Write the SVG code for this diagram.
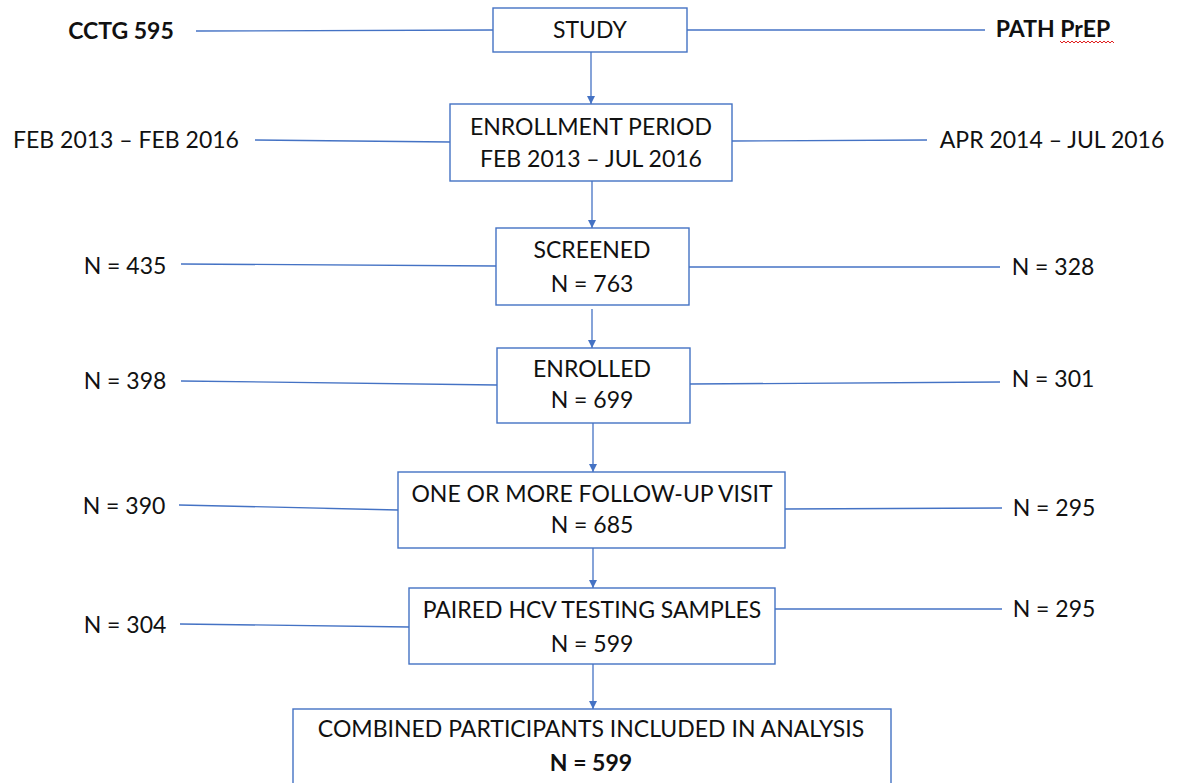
<svg xmlns="http://www.w3.org/2000/svg" width="1183" height="783" viewBox="0 0 1183 783">
<style>
.box{fill:#fff;stroke:#4472C4;stroke-width:1.4}
.ln{stroke:#4472C4;stroke-width:1.3;fill:none}
.t{font-family:Lato,"Liberation Sans",sans-serif;font-size:23px;fill:#111;text-anchor:middle}
.b{font-weight:bold}
</style>
<defs>
<marker id="ah" markerUnits="userSpaceOnUse" markerWidth="10" markerHeight="10" refX="8" refY="4" orient="auto">
<path d="M0,0 L8,4 L0,8 Z" fill="#4472C4"/>
</marker>
</defs>
<rect width="1183" height="783" fill="#fff"/>
<g id="connectors">
<line class="ln" x1="196" y1="31" x2="493" y2="30"/>
<line class="ln" x1="687" y1="30" x2="985" y2="30"/>
<line class="ln" x1="255" y1="140" x2="450" y2="142"/>
<line class="ln" x1="732" y1="141" x2="927" y2="140"/>
<line class="ln" x1="181" y1="264" x2="496" y2="266"/>
<line class="ln" x1="689" y1="267" x2="1000" y2="267"/>
<line class="ln" x1="181" y1="381" x2="497" y2="385"/>
<line class="ln" x1="690" y1="384" x2="1000" y2="382"/>
<line class="ln" x1="179" y1="505" x2="398" y2="510"/>
<line class="ln" x1="785" y1="509" x2="1002" y2="508"/>
<line class="ln" x1="180" y1="624" x2="409" y2="627"/>
<line class="ln" x1="775" y1="609" x2="1002" y2="609"/>
<line class="ln" x1="591" y1="52" x2="591" y2="104" marker-end="url(#ah)"/>
<line class="ln" x1="592" y1="181" x2="592" y2="228" marker-end="url(#ah)"/>
<line class="ln" x1="592" y1="309" x2="592" y2="348" marker-end="url(#ah)"/>
<line class="ln" x1="593" y1="423" x2="593" y2="472" marker-end="url(#ah)"/>
<line class="ln" x1="593" y1="548" x2="593" y2="588" marker-end="url(#ah)"/>
<line class="ln" x1="593" y1="664" x2="593" y2="709" marker-end="url(#ah)"/>
</g>
<g id="labels-left">
<text class="t b" x="121" y="39">CCTG 595</text>
<text class="t" x="126" y="148">FEB 2013 – FEB 2016</text>
<text class="t" x="125" y="274">N = 435</text>
<text class="t" x="125" y="389">N = 398</text>
<text class="t" x="124" y="514">N = 390</text>
<text class="t" x="125" y="633">N = 304</text>
</g>
<g id="labels-right">
<text class="t b" x="1053" y="37">PATH PrEP</text>
<path d="M1060,41 l2,2 l2,-2 l2,2 l2,-2 l2,2 l2,-2 l2,2 l2,-2 l2,2 l2,-2 l2,2 l2,-2 l2,2 l2,-2 l2,2 l2,-2 l2,2 l2,-2 l2,2 l2,-2 l2,2 l2,-2 l2,2 l2,-2 l2,2 l2,-2 l2,2" fill="none" stroke="#e02020" stroke-width="1"/>
<text class="t" x="1052" y="148">APR 2014 – JUL 2016</text>
<text class="t" x="1053" y="275">N = 328</text>
<text class="t" x="1053" y="387">N = 301</text>
<text class="t" x="1054" y="516">N = 295</text>
<text class="t" x="1054" y="617">N = 295</text>
</g>
<g id="study">
<rect class="box" x="493" y="8" width="194" height="44"/>
<text class="t" x="590" y="38">STUDY</text>
</g>
<g id="enrollment">
<rect class="box" x="450" y="104" width="282" height="77"/>
<text class="t" x="591" y="135">ENROLLMENT PERIOD</text>
<text class="t" x="591" y="167">FEB 2013 – JUL 2016</text>
</g>
<g id="screened">
<rect class="box" x="496" y="228" width="193" height="77"/>
<text class="t" x="592" y="258">SCREENED</text>
<text class="t" x="592" y="292">N = 763</text>
</g>
<g id="enrolled">
<rect class="box" x="497" y="348" width="193" height="75"/>
<text class="t" x="592" y="377">ENROLLED</text>
<text class="t" x="592" y="408">N = 699</text>
</g>
<g id="followup">
<rect class="box" x="398" y="472" width="387" height="76"/>
<text class="t" x="592" y="502">ONE OR MORE FOLLOW-UP VISIT</text>
<text class="t" x="592" y="533">N = 685</text>
</g>
<g id="paired">
<rect class="box" x="409" y="588" width="366" height="76"/>
<text class="t" x="592" y="618">PAIRED HCV TESTING SAMPLES</text>
<text class="t" x="592" y="652">N = 599</text>
</g>
<g id="combined">
<rect class="box" x="293" y="709" width="598" height="90"/>
<text class="t" x="591" y="737">COMBINED PARTICIPANTS INCLUDED IN ANALYSIS</text>
<text class="t b" x="591" y="771">N = 599</text>
</g>
</svg>
